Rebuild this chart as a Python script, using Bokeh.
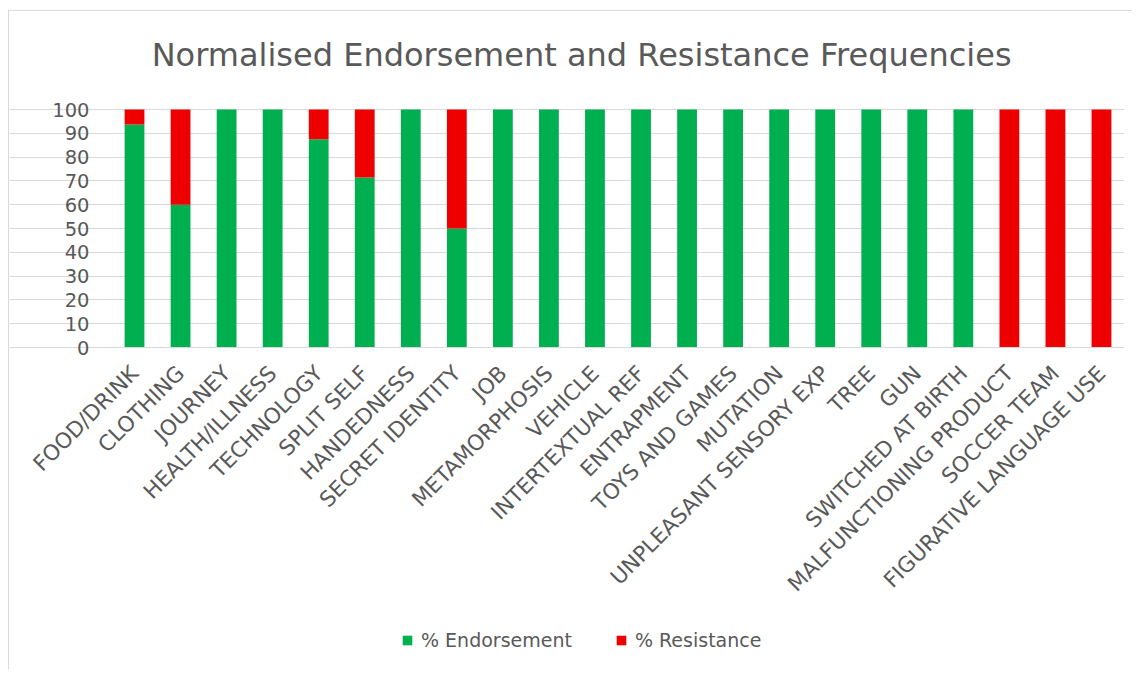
import math

from bokeh.embed import file_html
from bokeh.models import (ColumnDataSource, FixedTicker, Grid, Label, Legend, LegendItem,
                          LinearAxis, Range1d)
from bokeh.plotting import figure
from bokeh.resources import INLINE

# Themes, in the order they appear on the chart
categories = [
    "FOOD/DRINK", "CLOTHING", "JOURNEY", "HEALTH/ILLNESS", "TECHNOLOGY",
    "SPLIT SELF", "HANDEDNESS", "SECRET IDENTITY", "JOB", "METAMORPHOSIS",
    "VEHICLE", "INTERTEXTUAL REF", "ENTRAPMENT", "TOYS AND GAMES", "MUTATION",
    "UNPLEASANT SENSORY EXP", "TREE", "GUN", "SWITCHED AT BIRTH",
    "MALFUNCTIONING PRODUCT", "SOCCER TEAM", "FIGURATIVE LANGUAGE USE",
]

# Percentages per theme
endorsement = [93.75, 60, 100, 100, 87.5, 71.4, 100, 50, 100, 100, 100,
               100, 100, 100, 100, 100, 100, 100, 100, 0, 0, 0]
resistance = [6.25, 40, 0, 0, 12.5, 28.6, 0, 50, 0, 0, 0,
              0, 0, 0, 0, 0, 0, 0, 0, 100, 100, 100]

y_ticks = list(range(0, 101, 10))

GREEN = "#00B050"
RED = "#EE0000"
TEXT = "#595959"
GRID = "#D9D9D9"
FONT = "DejaVu Sans"

# one slot per theme along x
positions = list(range(len(categories)))
slot_bounds = (positions[0] - 0.5, positions[-1] + 0.5)

source = ColumnDataSource(dict(x=positions, cat=categories,
                               endorse=endorsement, resist=resistance))

# The frame covers the whole chart; both axes are pinned inside it so the
# heading, the slanted theme names and the legend sit around the 0-100 band.
p = figure(
    frame_width=1115, frame_height=658,
    x_range=Range1d(-2.715, slot_bounds[1]),
    y_range=Range1d(-135.3, 141.2),
    x_axis_location=None, y_axis_location=None,
    output_backend="svg", toolbar_location=None,
    min_border_left=0, min_border_right=8, min_border_top=0, min_border_bottom=0,
)
p.margin = (10, 0, 0, 8)
p.styles = {"border-left": "1px solid #D9D9D9", "border-top": "1px solid #D9D9D9"}
p.outline_line_color = None
p.grid.visible = False

p.add_layout(Grid(dimension=1, ticker=FixedTicker(ticks=y_ticks), bounds=slot_bounds,
                  grid_line_color=GRID, grid_line_width=1))

renderers = p.vbar_stack(["endorse", "resist"], x="x", width=0.43, source=source,
                         color=[GREEN, RED], line_color=None)

xaxis = LinearAxis(
    fixed_location=0, bounds=slot_bounds,
    ticker=FixedTicker(ticks=positions, minor_ticks=[]),
    major_label_overrides={i: name for i, name in zip(positions, categories)},
    axis_line_color=GRID, axis_line_width=1,
    major_tick_line_color=None, minor_tick_line_color=None,
    major_tick_out=0, major_tick_in=0,
    major_label_orientation=math.pi / 4, major_label_standoff=22,
    major_label_text_font=FONT, major_label_text_font_size="21.5px",
    major_label_text_color=TEXT,
)
p.add_layout(xaxis, "below")

yaxis = LinearAxis(
    fixed_location=slot_bounds[0],
    ticker=FixedTicker(ticks=y_ticks, minor_ticks=[]),
    axis_line_color=None, major_tick_line_color=None, minor_tick_line_color=None,
    major_tick_out=0, major_tick_in=0, major_label_standoff=22,
    major_label_text_font=FONT, major_label_text_font_size="19.5px",
    major_label_text_color=TEXT,
)
p.add_layout(yaxis, "left")

# heading
p.add_layout(Label(
    x=9.71, y=123.0, text="Normalised Endorsement and Resistance Frequencies",
    text_align="center", text_baseline="alphabetic",
    text_font=FONT, text_font_size="32px", text_color=TEXT,
))

legend = Legend(
    items=[LegendItem(label="% Endorsement", renderers=[renderers[0]]),
           LegendItem(label="% Resistance", renderers=[renderers[1]])],
    orientation="horizontal",
    location=(392, 18),
    glyph_width=12, glyph_height=12, label_height=20,
    label_text_font=FONT, label_text_font_size="19px", label_text_color=TEXT,
    label_standoff=8, spacing=43, padding=0, margin=0,
    border_line_color=None, background_fill_alpha=0,
)
p.add_layout(legend, "center")

open("out.html", "w").write(file_html(p, INLINE))
